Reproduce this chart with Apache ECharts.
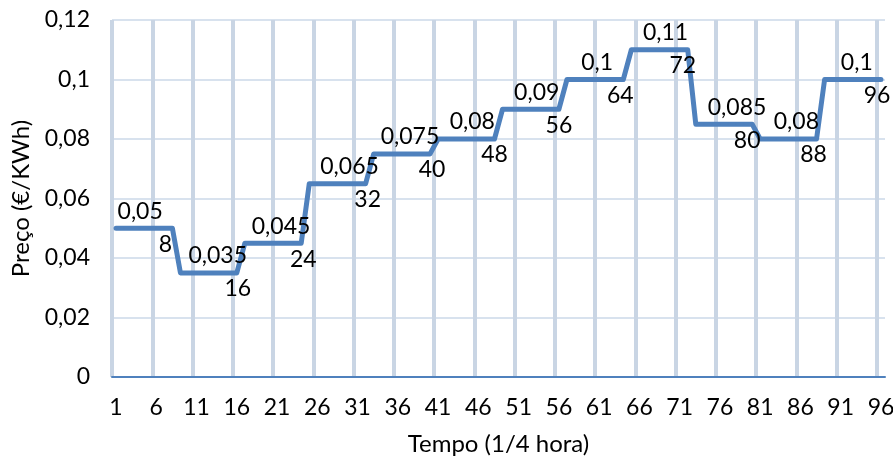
<!DOCTYPE html>
<html>
<head>
<meta charset="utf-8">
<script src="https://cdn.jsdelivr.net/npm/echarts@6/dist/echarts.min.js"></script>
<style>
html,body{margin:0;padding:0;background:#fff;}
#chart{width:893px;height:459px;}
</style>
</head>
<body>
<div id="chart"></div>
<script>
// ---- data ----
const categories = [
  '1','2','3','4','5','6','7','8','9','10','11','12','13','14','15','16',
  '17','18','19','20','21','22','23','24','25','26','27','28','29','30','31','32',
  '33','34','35','36','37','38','39','40','41','42','43','44','45','46','47','48',
  '49','50','51','52','53','54','55','56','57','58','59','60','61','62','63','64',
  '65','66','67','68','69','70','71','72','73','74','75','76','77','78','79','80',
  '81','82','83','84','85','86','87','88','89','90','91','92','93','94','95','96'
];
const prices = [
  0.05, 0.05, 0.05, 0.05, 0.05, 0.05, 0.05, 0.05,
  0.035, 0.035, 0.035, 0.035, 0.035, 0.035, 0.035, 0.035,
  0.045, 0.045, 0.045, 0.045, 0.045, 0.045, 0.045, 0.045,
  0.065, 0.065, 0.065, 0.065, 0.065, 0.065, 0.065, 0.065,
  0.075, 0.075, 0.075, 0.075, 0.075, 0.075, 0.075, 0.075,
  0.08, 0.08, 0.08, 0.08, 0.08, 0.08, 0.08, 0.08,
  0.09, 0.09, 0.09, 0.09, 0.09, 0.09, 0.09, 0.09,
  0.1, 0.1, 0.1, 0.1, 0.1, 0.1, 0.1, 0.1,
  0.11, 0.11, 0.11, 0.11, 0.11, 0.11, 0.11, 0.11,
  0.085, 0.085, 0.085, 0.085, 0.085, 0.085, 0.085, 0.085,
  0.08, 0.08, 0.08, 0.08, 0.08, 0.08, 0.08, 0.08,
  0.1, 0.1, 0.1, 0.1, 0.1, 0.1, 0.1, 0.1
];
// points carrying the price label (above) and the time-index label (below)
const valueLabelPoints = [4, 14, 21, 30, 38, 45, 53, 61, 69, 78, 85, 93];
const indexLabelPoints = [8, 16, 24, 32, 40, 48, 56, 64, 72, 80, 88, 96];
const yTickLabels = ['0', '0,02', '0,04', '0,06', '0,08', '0,1', '0,12'];
const xAxisTitle = 'Tempo (1/4 hora)';
const yAxisTitle = 'Preço (€/KWh)';

// ---- style ----
const FONT = 'Lato';
const FS = 23;
const NAME_FS = 24;
const TXT = '#000';
const LINE = '#4f81bd';
const valueLabelShift = [0, -3, 4, 0, -4, 2, 2, -2, 2, 1, 4, 0];
const indexLabelShift = [-7, 1, 2, 2, 2, 0, 0, -3, -5, -5, -3, -4];

function fmt(v) { return String(v).replace('.', ','); }

const seriesData = prices.map(function (v, i) {
  const pt = i + 1;
  const vi = valueLabelPoints.indexOf(pt);
  const ii = indexLabelPoints.indexOf(pt);
  if (vi >= 0) {
    return { value: v, label: { show: true, position: 'top', distance: 5,
      offset: [valueLabelShift[vi], 0], formatter: fmt(v) } };
  }
  if (ii >= 0) {
    return { value: v, label: { show: true, position: 'bottom', distance: 4,
      offset: [indexLabelShift[ii], 0], formatter: categories[i] } };
  }
  return v;
});

const chart = echarts.init(document.getElementById('chart'), null, { renderer: 'canvas' });
chart.setOption({
  animation: false,
  backgroundColor: '#fff',
  textStyle: { fontFamily: FONT },
  grid: { left: 112, right: 8, top: 20, bottom: 82, containLabel: false, outerBoundsMode: 'none' },
  xAxis: {
    type: 'category',
    data: categories,
    boundaryGap: true,
    name: xAxisTitle,
    nameLocation: 'middle',
    nameGap: 55,
    nameTextStyle: { fontSize: NAME_FS, color: TXT, fontFamily: FONT },
    axisLine: { show: true, lineStyle: { color: LINE, width: 2 } },
    axisTick: { show: false },
    axisLabel: { interval: 4, fontSize: FS, color: TXT, fontFamily: FONT, margin: 19 },
    splitLine: { show: true, interval: 4, showMaxLine: false,
      lineStyle: { color: '#c9d5e4', width: 4 } }
  },
  yAxis: {
    type: 'value',
    min: 0, max: 0.12, interval: 0.02,
    name: yAxisTitle,
    nameLocation: 'middle',
    nameGap: 79,
    nameTextStyle: { fontSize: NAME_FS, color: TXT, fontFamily: FONT },
    axisLine: { show: false },
    axisTick: { show: false },
    axisLabel: { fontSize: FS, color: TXT, fontFamily: FONT, margin: 22,
      formatter: function (v) { return yTickLabels[Math.round(v / 0.02)]; } },
    splitLine: { show: true, lineStyle: { color: '#d8e2ee', width: 2 } }
  },
  series: [{
    type: 'line',
    data: seriesData,
    symbol: 'circle',
    symbolSize: 1,
    showAllSymbol: true,
    itemStyle: { color: LINE },
    lineStyle: { color: LINE, width: 5, cap: 'round', join: 'round' },
    label: { show: false, fontSize: FS, color: TXT, fontFamily: FONT },
    z: 3
  }]
});
</script>
</body>
</html>
